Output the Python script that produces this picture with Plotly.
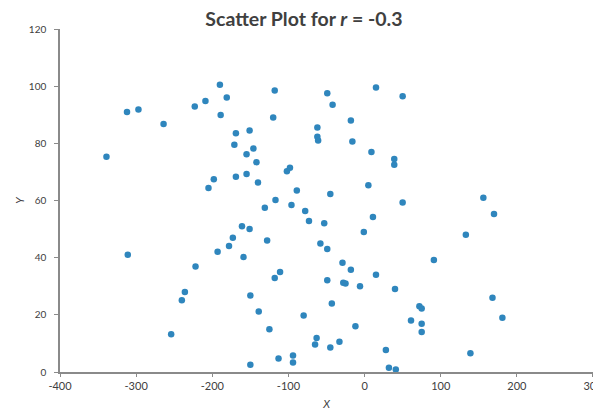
import plotly.graph_objects as go

x_vals = [-339, -312, -297, -264, -223, -209, -190, -181, -189, -169, -171, -169, -198, -205,
          -118, -120, -49, -42, 15, -18, -62, -62, -61, -16, -151, -146, -155, -142, -155, -140,
          -102, -98, 9, 39, 39, 5, -89, -45, -117, -131, -96, -78, 11,
          50, 50, 156, 170,
          -311, -173, -178, -193, -222, -236, -240, -254,
          -73, -53, -1, -161, -151, -128, -159, -58, -49, -29, -18, -111, -118, -49, -28, -25,
          -6, 15, 40, -150, -139, -43, -80, -125, -12, -63, -65, -33, -45, -113, -94, -94, -150,
          28, 32, 41,
          133, 91, 72, 75, 61, 75, 75, 168, 181, 139]
y_vals = [75.3, 91, 91.8, 86.8, 92.9, 94.8, 100.5, 96, 89.9, 83.5, 79.5, 68.3, 67.4, 64.4,
          98.5, 89, 97.5, 93.5, 99.5, 88, 85.5, 82.3, 81, 80.6, 84.5, 78.2, 76.2, 73.4, 69.3, 66.3,
          70.2, 71.5, 77, 74.5, 72.5, 65.3, 63.5, 62.3, 60.2, 57.5, 58.4, 56.3, 54.2,
          96.5, 59.3, 61, 55.3,
          41, 47, 44.1, 42.1, 36.9, 28, 25.1, 13.2,
          52.8, 52, 49, 51, 50, 46, 40.2, 45, 43, 38.2, 35.8, 35, 32.9, 32.1, 31.2, 31,
          30, 34, 29, 26.8, 21.2, 24, 19.8, 15, 16, 11.9, 9.6, 10.6, 8.6, 4.7, 5.8, 3.3, 2.5,
          7.7, 1.5, 0.9,
          48, 39.2, 23, 22.2, 18, 16.9, 14, 26, 19, 6.6]

x_ticks = [-400, -300, -200, -100, 0, 100, 200, 300]
y_ticks = [0, 20, 40, 60, 80, 100, 120]

fig = go.Figure(go.Scatter(
    x=x_vals, y=y_vals, mode="markers",
    marker=dict(size=6.5, color="#2F86BD", line=dict(width=0)),
    cliponaxis=False,
))

# the page body adds an 8px offset, so the figure is 593x405
fig.update_layout(
    width=593, height=405,
    margin=dict(l=52, r=8, t=21, b=41, autoexpand=False),
    paper_bgcolor="white", plot_bgcolor="white",
    font=dict(family="Lato, Open Sans, sans-serif", color="#404040"),
    showlegend=False,
    title=dict(text="<b>Scatter Plot for <i>r</i> = -0.3</b>", x=0.499, xanchor="center",
               y=0.972, yanchor="middle", font=dict(size=19.5, color="#404040")),
)
fig.update_xaxes(
    range=[-400, 300.01], tickvals=x_ticks, ticktext=[str(v) for v in x_ticks],
    automargin=False, ticklabeloverflow="allow",
    showgrid=False, zeroline=False, showline=True, linecolor="#8a8a8a", linewidth=2,
    ticks="outside", ticklen=3, tickcolor="#8a8a8a", tickfont=dict(size=11, color="#404040"),
    title=dict(text="<i>X</i>", font=dict(size=11, color="#404040"), standoff=9),
)
fig.update_yaxes(
    range=[0, 120], tickvals=y_ticks, ticktext=[str(v) for v in y_ticks],
    automargin=False,
    showgrid=False, zeroline=False, showline=True, linecolor="#8a8a8a", linewidth=1.5,
    ticks="outside", ticklen=4, tickcolor="#8a8a8a", tickfont=dict(size=10, color="#404040"),
    ticklabelstandoff=6,
    title=dict(text="<i>Y</i>", font=dict(size=11, color="#404040"), standoff=2),
)

fig.write_html("out.html")
